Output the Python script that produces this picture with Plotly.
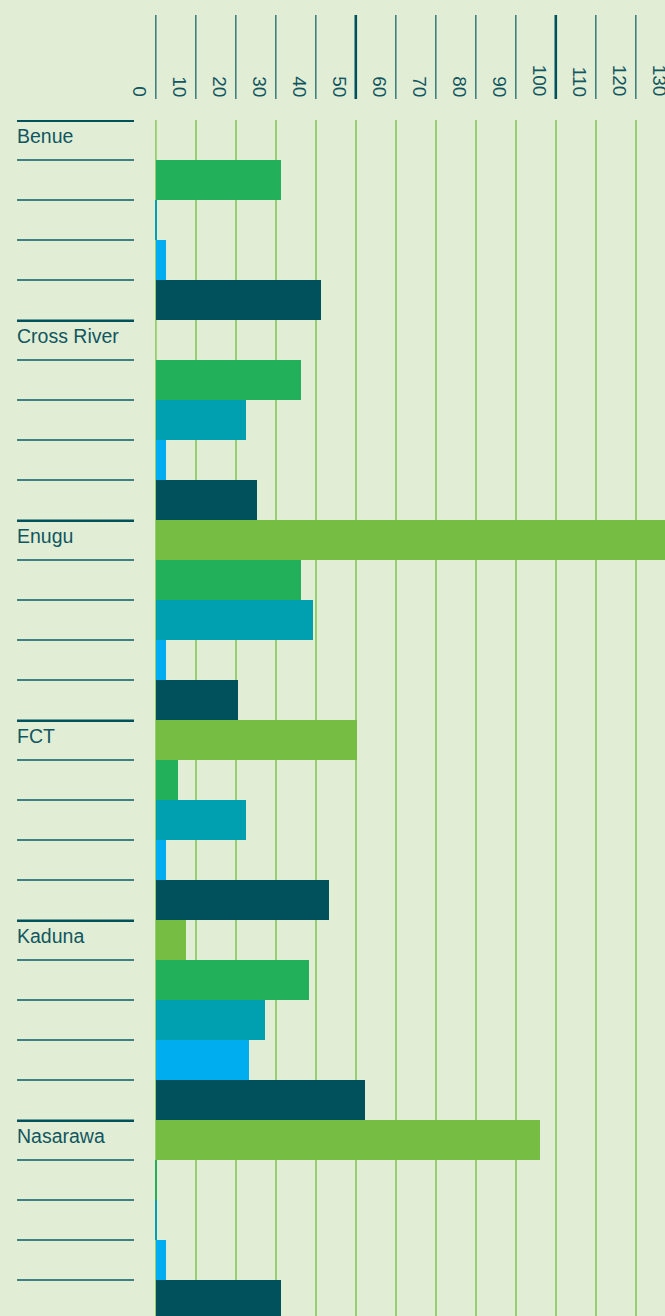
import plotly.graph_objects as go

# ---------------- data ----------------
states = ["Benue", "Cross River", "Enugu", "FCT", "Kaduna", "Nasarawa"]
series_names = ["Series 1", "Series 2", "Series 3", "Series 4", "Series 5"]
series_1 = [0, 0, 131, 50.25, 7.5, 96]
series_2 = [31.25, 36.25, 36.25, 5.5, 38.25, 0.4]
series_3 = [0.4, 22.5, 39.25, 22.5, 27.25, 0.4]
series_4 = [2.5, 2.5, 2.5, 2.5, 23.25, 2.5]
series_5 = [41.25, 25.25, 20.5, 43.25, 52.25, 31.25]
tick_values = [0, 10, 20, 30, 40, 50, 60, 70, 80, 90, 100, 110, 120, 130]
major_ticks = [50, 100]

# ---------------- style ----------------
W, H = 665, 1316
ML, MT = 155, 120
PLOT_W, PLOT_H = W - ML, H - MT
ROW_PX = 40
PX_PER_UNIT = 4.0
BG = "#e1eed5"
COLORS = ["#76bd43", "#22b15a", "#00a0b1", "#00aeef", "#00515c"]
GRID = "#96cf6e"
TEXT = "#12565f"
TICK = "#3f8183"
TICK_MAJOR = "#00515c"
FONT = "Liberation Sans, Arial, sans-serif"

n_series = len(series_names)
all_series = [series_1, series_2, series_3, series_4, series_5]

X_MIN = -0.2
X_MAX = X_MIN + PLOT_W / PX_PER_UNIT
Y_BOTTOM = -0.5 + PLOT_H / ROW_PX


def px_x(p):
    return (p - ML) / PLOT_W


def px_y(p):
    return (H - p) / PLOT_H


fig = go.Figure()
for k, (name, vals) in enumerate(zip(series_names, all_series)):
    fig.add_trace(go.Bar(
        orientation="h",
        name=name,
        x=vals,
        y=[g * n_series + k for g in range(len(states))],
        width=1,
        marker=dict(color=COLORS[k], line=dict(width=0)),
        showlegend=False,
        hoverinfo="x+name",
    ))

shapes = []
annotations = []

# grid line at zero (plotly skips the grid line at the axis edge)
shapes.append(dict(type="line", xref="x", yref="paper", x0=0, x1=0,
                   y0=0, y1=1, layer="below",
                   line=dict(color=GRID, width=2)))

# left label rules
for g, st in enumerate(states):
    top = g * n_series - 0.5
    shapes.append(dict(type="line", xref="paper", yref="y",
                       x0=px_x(17), x1=px_x(134),
                       y0=top + 0.7 / ROW_PX, y1=top + 0.7 / ROW_PX,
                       line=dict(color=TICK_MAJOR, width=2.6)))
    for k in range(1, n_series):
        yb = g * n_series + k - 0.5
        shapes.append(dict(type="line", xref="paper", yref="y",
                           x0=px_x(17), x1=px_x(134), y0=yb, y1=yb,
                           line=dict(color=TICK, width=1.8)))
    annotations.append(dict(text=st, xref="paper", yref="y",
                            x=px_x(17), y=g * n_series, xanchor="left",
                            yanchor="middle", xshift=-2, yshift=4,
                            showarrow=False,
                            font=dict(family=FONT, size=19.5, color=TEXT)))

# top axis ticks and labels
last_in_range = max(v for v in tick_values if v <= X_MAX)
for v in tick_values:
    major = v in major_ticks
    shapes.append(dict(type="line", xref="x", yref="paper",
                       x0=v, x1=v, y0=px_y(15), y1=px_y(99),
                       line=dict(color=TICK_MAJOR if major else TICK,
                                 width=2.6 if major else 1.6)))
    # labels beyond the visible range are anchored on the last visible tick
    anchor_v = v if v <= X_MAX else last_in_range
    extra = (v - anchor_v) * PX_PER_UNIT
    annotations.append(dict(text=str(v), xref="x", yref="paper",
                            x=anchor_v, y=px_y(99), xanchor="center",
                            yanchor="bottom", xshift=-16.5 + extra,
                            textangle=90, showarrow=False,
                            font=dict(family=FONT, size=19, color=TEXT)))

fig.update_layout(
    width=W, height=H,
    margin=dict(l=ML, r=0, t=MT, b=0, pad=0),
    paper_bgcolor=BG, plot_bgcolor=BG,
    barmode="overlay", bargap=0,
    shapes=shapes, annotations=annotations,
    xaxis=dict(range=[X_MIN, X_MAX], showgrid=True, gridcolor=GRID,
               gridwidth=2, tick0=0, dtick=10, showticklabels=False,
               zeroline=False, showline=False, ticks="", fixedrange=True),
    yaxis=dict(range=[Y_BOTTOM, -0.5], showgrid=False, showticklabels=False,
               zeroline=False, showline=False, ticks="", fixedrange=True),
)

fig.write_html(
    "out.html",
    config={"displayModeBar": False},
    post_script="document.body.style.margin='0';"
                "document.body.style.background='" + BG + "';",
)
